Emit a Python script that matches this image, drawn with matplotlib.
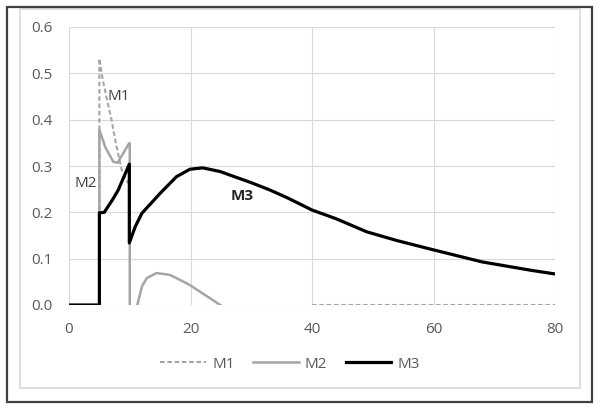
import numpy as np
import matplotlib.pyplot as plt
from matplotlib.patches import Rectangle

plt.rcParams['font.family'] = ['Open Sans', 'DejaVu Sans']

# series (nan breaks the line)
m1_x = [5, 5, 5.5, 6.2, 7.0, 7.6, 8.7, 9.7, np.nan, 40, 60, 80]
m1_y = [0, 0.532, 0.49, 0.447, 0.40, 0.356, 0.29, 0.263, np.nan, 0, 0, 0]

m2_x = [5, 5, 6.0, 7.3, 8.0, 9.9, 10, 10, np.nan,
        11.25, 12.0, 12.8, 14.4, 16.6, 18.0, 19.9, 22.0, 24.9]
m2_y = [0, 0.378, 0.34, 0.309, 0.307, 0.349, 0.349, 0, np.nan,
        0, 0.04, 0.058, 0.069, 0.065, 0.056, 0.043, 0.025, 0]

m3_x = [0, 5, 5, 5.8, 6.3, 7.2, 8.1, 9.93, 9.93, 10.9, 12, 15, 17.7, 19.9,
        22, 24.9, 27, 30, 33.1, 36, 40, 44, 49, 54, 60, 64, 68, 72, 76, 80]
m3_y = [0, 0, 0.199, 0.2, 0.21, 0.228, 0.248, 0.304, 0.134, 0.169, 0.198,
        0.241, 0.277, 0.293, 0.296, 0.288, 0.278, 0.264, 0.248, 0.231,
        0.205, 0.186, 0.158, 0.139, 0.119, 0.106, 0.093, 0.084, 0.075, 0.067]

gray = '#a5a5a5'
txt = '#595959'

fig = plt.figure(figsize=(6.01, 4.11), dpi=100)
ax = fig.add_axes([69 / 601, 1 - 305 / 411, (555 - 69) / 601, (305 - 27) / 411])

ax.plot(m1_x, m1_y, color=gray, lw=1.5, ls=(0, (2.2, 1.3)), label='M1')
ax.plot(m2_x, m2_y, color=gray, lw=1.8, label='M2')
ax.plot(m3_x, m3_y, color='black', lw=2.3, label='M3')

ax.set_xlim(0, 80)
ax.set_ylim(0, 0.6)
ax.set_xticks([0, 20, 40, 60, 80])
ax.set_yticks(np.arange(0, 0.61, 0.1))
ax.set_yticklabels([f'{v:.1f}' for v in np.arange(0, 0.61, 0.1)])
ax.grid(True, color='#d9d9d9', lw=0.8)
ax.set_axisbelow(True)
for s in ax.spines.values():
    s.set_visible(False)
ax.tick_params(length=0, labelsize=11, colors=txt, pad=12)

ax.text(6.4, 0.449, 'M1', fontsize=11, color='#404040', va='center')
ax.text(0.9, 0.263, 'M2', fontsize=11, color='#404040', va='center')
ax.text(26.6, 0.235, 'M3', fontsize=11, color='#262626', va='center', fontweight='bold')

leg = fig.legend(loc='center', bbox_to_anchor=(290 / 601, 1 - 364 / 411), ncol=3,
                 frameon=False, fontsize=11, handlelength=3.0, columnspacing=1.2,
                 handletextpad=0.4)
for t in leg.get_texts():
    t.set_color(txt)

# chart borders
fig.patches.append(Rectangle((20 / 601, 1 - 388 / 411), 560 / 601, (388 - 9) / 411,
                             transform=fig.transFigure, fill=False,
                             edgecolor='#d9d9d9', lw=1.2))
fig.patches.append(Rectangle((7 / 601, 1 - 402 / 411), 585 / 601, (402 - 7) / 411,
                             transform=fig.transFigure, fill=False,
                             edgecolor='#404040', lw=1.6))

fig.savefig('out.png', dpi=100)
